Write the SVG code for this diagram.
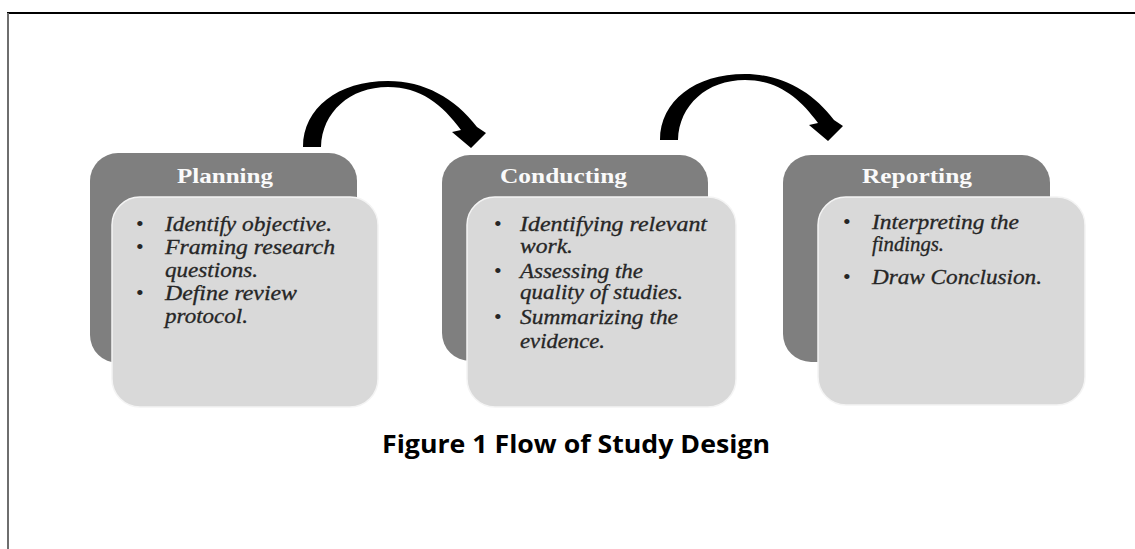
<svg xmlns="http://www.w3.org/2000/svg" xmlns:xlink="http://www.w3.org/1999/xlink" width="1135" height="549" viewBox="0 0 1135 549">
  <style>
    .back { fill: #7f7f7f; }
    .front { fill: #d9d9d9; stroke: #f4f4f4; stroke-width: 1.5; }
    .head { font-family: "Liberation Serif", "Times New Roman", serif; font-weight: bold; font-size: 20px; fill: #fafafa; }
    .item { font-family: "Liberation Serif", "Times New Roman", serif; font-style: italic; font-size: 20px; fill: #262626; stroke: #262626; stroke-width: 0.3; }
    .dot { font-family: "Liberation Serif", serif; font-size: 22px; fill: #262626; }
    .caption { font-family: "Open Sans", "Liberation Sans", sans-serif; font-weight: bold; font-size: 25px; fill: #000; }
    .arrow { fill: #000; }
  </style>
  <defs>
    <!-- tapered curved arrow, drawn once and placed twice -->
    <path id="curved-arrow" class="arrow" d="M303,147 C303,108 338,81 388,81 C424,81 455,98 477,127 L486,133 L471,148 L452,132 L461,130 C442,104 420,87 388,87 C350,87 322,112 321,147 Z"/>
  </defs>

  <rect width="1135" height="549" fill="#fff"/>
  <!-- page frame -->
  <line x1="7" y1="13" x2="1135" y2="13" stroke="#000" stroke-width="2"/>
  <line x1="8" y1="13" x2="8" y2="549" stroke="#6e6e6e" stroke-width="2"/>

  <g id="connectors">
    <use xlink:href="#curved-arrow"/>
    <use xlink:href="#curved-arrow" transform="translate(357,-7)"/>
  </g>

  <g id="planning">
    <rect class="back" x="90" y="153" width="267" height="210" rx="28"/>
    <rect class="front" x="112" y="197" width="266" height="210" rx="28"/>
    <text class="head" x="177" y="183" textLength="96" lengthAdjust="spacingAndGlyphs">Planning</text>
    <text class="dot" x="136" y="231">•</text>
    <text class="item" x="165" y="231" textLength="167" lengthAdjust="spacingAndGlyphs">Identify objective.</text>
    <text class="dot" x="136" y="254">•</text>
    <text class="item" x="165" y="254" textLength="170" lengthAdjust="spacingAndGlyphs">Framing research</text>
    <text class="item" x="165" y="277" textLength="93" lengthAdjust="spacingAndGlyphs">questions.</text>
    <text class="dot" x="136" y="300">•</text>
    <text class="item" x="165" y="300" textLength="132" lengthAdjust="spacingAndGlyphs">Define review</text>
    <text class="item" x="165" y="323" textLength="83" lengthAdjust="spacingAndGlyphs">protocol.</text>
  </g>

  <g id="conducting">
    <rect class="back" x="442" y="155" width="266" height="206" rx="28"/>
    <rect class="front" x="467" y="197" width="269" height="210" rx="28"/>
    <text class="head" x="500" y="183" textLength="127" lengthAdjust="spacingAndGlyphs">Conducting</text>
    <text class="dot" x="494" y="231">•</text>
    <text class="item" x="520" y="231" textLength="187" lengthAdjust="spacingAndGlyphs">Identifying relevant</text>
    <text class="item" x="520" y="253" textLength="53" lengthAdjust="spacingAndGlyphs">work.</text>
    <text class="dot" x="494" y="278">•</text>
    <text class="item" x="520" y="278" textLength="123" lengthAdjust="spacingAndGlyphs">Assessing the</text>
    <text class="item" x="520" y="299" textLength="163" lengthAdjust="spacingAndGlyphs">quality of studies.</text>
    <text class="dot" x="494" y="324">•</text>
    <text class="item" x="520" y="324" textLength="158" lengthAdjust="spacingAndGlyphs">Summarizing the</text>
    <text class="item" x="520" y="348" textLength="85" lengthAdjust="spacingAndGlyphs">evidence.</text>
  </g>

  <g id="reporting">
    <rect class="back" x="783" y="155" width="267" height="207" rx="28"/>
    <rect class="front" x="818" y="197" width="267" height="208" rx="28"/>
    <text class="head" x="862" y="183" textLength="110" lengthAdjust="spacingAndGlyphs">Reporting</text>
    <text class="dot" x="843" y="229">•</text>
    <text class="item" x="872" y="229" textLength="147" lengthAdjust="spacingAndGlyphs">Interpreting the</text>
    <text class="item" x="872" y="251" textLength="72" lengthAdjust="spacingAndGlyphs">findings.</text>
    <text class="dot" x="843" y="284">•</text>
    <text class="item" x="872" y="284" textLength="170" lengthAdjust="spacingAndGlyphs">Draw Conclusion.</text>
  </g>

  <g id="caption">
    <text class="caption" x="382" y="453" textLength="388" lengthAdjust="spacingAndGlyphs">Figure 1 Flow of Study Design</text>
  </g>
</svg>
